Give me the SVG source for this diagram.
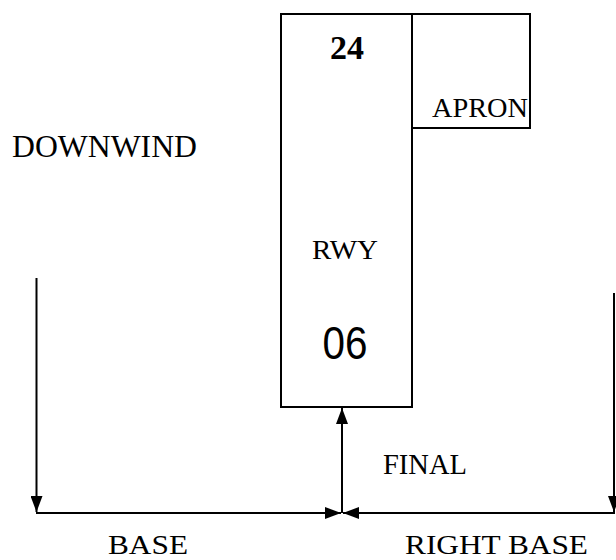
<svg xmlns="http://www.w3.org/2000/svg" width="616" height="560" viewBox="0 0 616 560">
<style>
.box{fill:#fff;stroke:#000;stroke-width:2}
.ln{stroke:#000;stroke-width:2;fill:none}
.t{font-family:"Liberation Serif","Times New Roman",serif;fill:#000}
</style>
<defs>
<marker id="ah" markerUnits="userSpaceOnUse" markerWidth="16" markerHeight="12" refX="16" refY="6" orient="auto" viewBox="0 0 16 12">
<path d="M0,0 L16,6 L0,12 z" fill="#000"/>
</marker>
</defs>
<rect width="616" height="560" fill="#fff"/>
<g id="runway">
<rect class="box" x="281" y="14" width="131" height="393"/>
<text class="t" x="347" y="59" font-size="34" font-weight="bold" text-anchor="middle">24</text>
<text class="t" x="345" y="259" font-size="28" text-anchor="middle" textLength="66" lengthAdjust="spacingAndGlyphs">RWY</text>
<text x="345" y="359" font-family="Liberation Sans, Arial, sans-serif" font-size="47" text-anchor="middle" textLength="45" lengthAdjust="spacingAndGlyphs">06</text>
</g>
<g id="apron">
<rect class="box" x="412" y="14" width="118" height="114"/>
<text class="t" x="432" y="117" font-size="28" textLength="96" lengthAdjust="spacingAndGlyphs">APRON</text>
</g>
<g id="labels">
<text class="t" x="12" y="157" font-size="32" textLength="185" lengthAdjust="spacingAndGlyphs">DOWNWIND</text>
<text class="t" x="383" y="474" font-size="29" textLength="84" lengthAdjust="spacingAndGlyphs">FINAL</text>
<text class="t" x="108" y="554" font-size="28" textLength="80" lengthAdjust="spacingAndGlyphs">BASE</text>
<text class="t" x="405" y="554" font-size="28" textLength="183" lengthAdjust="spacingAndGlyphs">RIGHT BASE</text>
</g>
<g id="connectors">
<line class="ln" x1="36.5" y1="278" x2="36.5" y2="512" marker-end="url(#ah)"/>
<line class="ln" x1="614" y1="293" x2="614" y2="512" marker-end="url(#ah)"/>
<line class="ln" x1="36" y1="513" x2="341" y2="513" marker-end="url(#ah)"/>
<line class="ln" x1="615" y1="513" x2="343" y2="513" marker-end="url(#ah)"/>
<line class="ln" x1="342" y1="513" x2="342" y2="408" marker-end="url(#ah)"/>
</g>
</svg>
